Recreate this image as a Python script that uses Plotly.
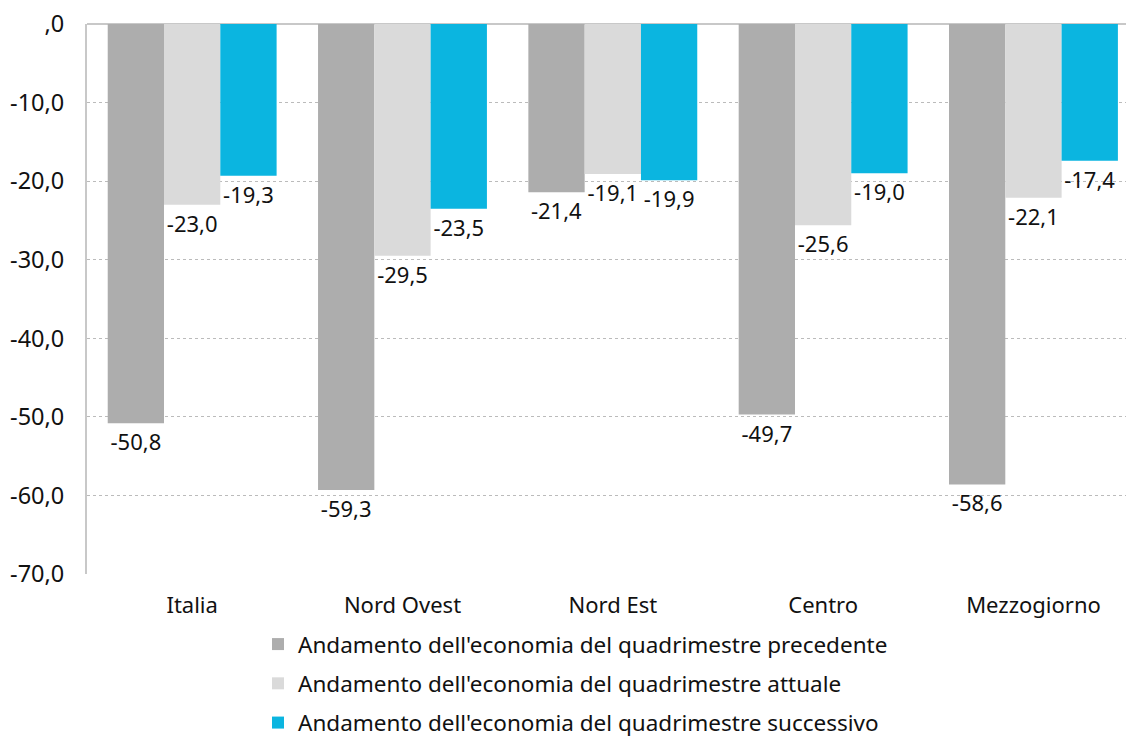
import plotly.graph_objects as go

regions = ["Italia", "Nord Ovest", "Nord Est", "Centro", "Mezzogiorno"]
precedente = [-50.8, -59.3, -21.4, -49.7, -58.6]
attuale = [-23.0, -29.5, -19.1, -25.6, -22.1]
successivo = [-19.3, -23.5, -19.9, -19.0, -17.4]

series_names = [
    "Andamento dell'economia del quadrimestre precedente",
    "Andamento dell'economia del quadrimestre attuale",
    "Andamento dell'economia del quadrimestre successivo",
]
colors = ["#ADADAD", "#DADADA", "#0BB5E0"]

tick_vals = [0, -10, -20, -30, -40, -50, -60, -70]
tick_text = [",0", "-10,0", "-20,0", "-30,0", "-40,0", "-50,0", "-60,0", "-70,0"]

FONT = "Noto Sans"
TXT = "#111111"


def fmt(v):
    return f"{v:.1f}".replace(".", ",")


fig = go.Figure()
for i, (name, vals, col) in enumerate(zip(series_names, [precedente, attuale, successivo], colors)):
    fig.add_trace(go.Bar(
        x=regions, y=vals, name=name, legendgroup=f"g{i}",
        marker=dict(color=col, line=dict(width=0)),
        text=[fmt(v) for v in vals],
        textposition="outside",
        textfont=dict(family=FONT, size=22, color=TXT),
        cliponaxis=False,
    ))

fig.update_layout(
    width=1126, height=740,
    margin=dict(l=87, r=0, t=24, b=166, autoexpand=False),
    paper_bgcolor="white", plot_bgcolor="white",
    barmode="group", bargap=0.197, bargroupgap=0,
    font=dict(family=FONT, size=22, color=TXT),
    showlegend=True,
    legend=dict(
        x=0.1646, y=-0.089, xanchor="left", yanchor="top",
        orientation="v", traceorder="grouped",
        font=dict(family=FONT, size=22.5, color=TXT),
        itemwidth=30, tracegroupgap=7,
    ),
    xaxis=dict(
        range=[-0.5, 4.44],
        showgrid=False, showline=False, ticks="",
        ticklabelstandoff=16,
        tickfont=dict(family=FONT, size=22, color=TXT),
    ),
    yaxis=dict(
        range=[-70, 0],
        tickvals=tick_vals, ticktext=tick_text,
        showgrid=True, gridcolor="#BBBBBB", griddash="dot", gridwidth=1,
        zeroline=True, zerolinecolor="#C8C8C8", zerolinewidth=2,
        showline=True, linecolor="#C8C8C8", linewidth=2,
        ticks="", ticklabelstandoff=16,
        tickfont=dict(family=FONT, size=23.5, color=TXT),
    ),
)

fig.write_html("out.html")
